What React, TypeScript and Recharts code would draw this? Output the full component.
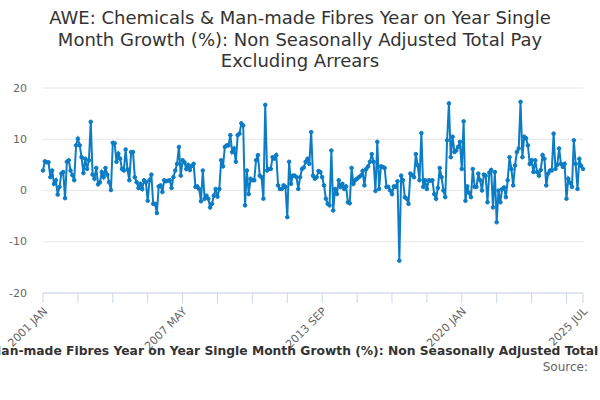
import React from 'react';
import { LineChart, Line, XAxis, YAxis, CartesianGrid } from 'recharts';

const monthNames = ['JAN', 'FEB', 'MAR', 'APR', 'MAY', 'JUN', 'JUL', 'AUG', 'SEP', 'OCT', 'NOV', 'DEC'];
const startYear = 2001;

// monthly YoY growth (%), Jan 2001 .. Jul 2025
const growth2001to2005 = [
  3.9, 5.7, 5.5, 5.5, 2.6, 3.9, 1.3, 2.0, -0.8, 0.7, 3.3, 3.6,
  -1.5, 5.6, 5.9, 3.9, 3.0, 2.0, 8.8, 10.1, 8.8, 6.5, 3.4, 6.2,
  4.2, 5.9, 13.4, 3.1, 2.3, 4.4, 1.2, 1.6, 3.6, 2.6, 4.4, 3.1,
  1.6, 0.1, 9.3, 9.2, 5.6, 7.2, 6.2, 4.2, 3.9, 8.0, 4.1, 2.0,
  7.5, 7.5, 2.6, 1.6, 0.5, 1.3, 0.3, 2.0, 1.6, -2.0, 2.0, 3.1,
];
const growth2006to2010 = [
  -2.6, -2.6, -4.4, 0.8, 1.0, -0.3, 2.0, 1.8, 1.9, 2.0, 0.5, 2.6,
  3.9, 5.2, 8.5, 2.9, 5.9, 5.5, 4.2, 5.0, 4.0, 4.8, 5.2, 0.7,
  0.8, 0.3, -2.1, 3.9, -1.6, -1.0, -1.6, -3.3, -2.6, -1.0, 0.3, -1.2,
  0.3, 5.9, 4.7, 8.5, 8.8, 8.8, 10.8, 7.5, 8.2, 5.6, 10.8, 11.1,
  13.1, 12.7, -2.9, 3.9, -0.7, 2.3, 2.0, 2.0, 5.9, 6.9, 2.9, 2.6,
];
const growth2011to2015 = [
  -1.6, 16.7, 3.9, 4.2, 4.2, 6.5, 6.2, 6.9, 1.0, 0.3, 0.3, 1.0,
  0.7, -5.2, 5.6, 1.3, 2.9, 2.9, 2.6, 0.3, 2.6, 4.2, 4.5, 5.6,
  6.2, 5.2, 11.4, 2.9, 2.3, 2.6, 3.8, 3.6, 2.6, 1.0, -1.6, -2.6,
  -2.9, 7.8, -3.9, 0.3, -0.7, 2.0, 0.7, 1.3, 0.3, 0.8, -2.3, -2.5,
  4.4, 1.3, 2.0, 2.3, 2.6, 2.9, 3.8, 1.0, 4.2, 4.7, 5.6, 7.1,
];
const growth2016to2020 = [
  5.6, -0.1, 9.5, 0.3, 4.7, 4.6, 4.4, 0.7, 0.7, 0.0, -0.7, 0.8,
  0.7, 1.8, -13.7, 2.9, 2.0, -1.3, -1.6, -2.6, 3.3, 3.0, 2.6, 7.1,
  4.9, 2.0, 11.2, 0.7, 2.0, 0.3, 2.0, 1.9, 2.0, -0.7, -1.6, 0.5,
  4.4, 2.6, 0.0, -1.3, 9.8, 17.0, 6.5, 10.5, 7.5, 7.8, 8.5, 9.5,
  4.2, 13.5, -2.0, 0.8, -0.5, -1.3, 4.2, 0.7, 0.7, 3.3, 2.0, 0.0,
];
const growth2021to2025 = [
  3.1, 2.9, -2.3, 3.5, 4.0, -3.3, 3.6, -6.2, 0.0, -2.3, 0.3, 0.6,
  -1.3, 2.0, 6.5, 4.2, 1.0, 4.9, 7.5, 8.2, 17.3, 6.5, 10.5, 10.2,
  8.8, 5.2, 5.9, 3.6, 5.9, 3.6, 2.9, 4.0, 6.9, 6.2, 1.0, 3.3,
  3.9, 3.9, 11.1, 4.2, 5.0, 8.2, 5.2, 4.6, 5.2, -1.6, 2.3, 1.5,
  0.7, 9.8, 5.2, 0.3, 6.2, 4.8, 4.2,
];

const xTicks = [0, 19, 38, 57, 76, 95, 114, 133, 152, 171, 190, 209, 228, 247, 266, 285, 294];
const labeledTicks = [0, 76, 152, 228, 294];
const yTicks = [-20, -10, 0, 10, 20];

const titleText =
  'AWE: Chemicals & Man-made Fibres Year on Year Single Month Growth (%): Non Seasonally Adjusted Total Pay Excluding Arrears';

const growth = [
  ...growth2001to2005,
  ...growth2006to2010,
  ...growth2011to2015,
  ...growth2016to2020,
  ...growth2021to2025,
];

const monthLabel = (i: number) => `${startYear + Math.floor(i / 12)} ${monthNames[i % 12]}`;

const data = growth.map((value, i) => ({ i, label: monthLabel(i), value }));

const COLOR = '#0c7cc4';
const FONT = '"DejaVu Sans", sans-serif';

// axis line sits at y=293; labels hang below it, rotated
const XTick = (props: any) => {
  const { x, payload } = props;
  if (!labeledTicks.includes(payload.value)) return null;
  const tx = x + 5;
  const ty = 312;
  return (
    <text
      x={tx}
      y={ty}
      transform={`rotate(-45 ${tx} ${ty})`}
      textAnchor="end"
      fontSize={11}
      fill="#666"
      fontFamily={FONT}
    >
      {monthLabel(payload.value)}
    </text>
  );
};

const YTick = (props: any) => {
  const { y, payload } = props;
  return (
    <text x={27} y={y} textAnchor="end" dominantBaseline="central" fontSize={11} fill="#666" fontFamily={FONT}>
      {payload.value}
    </text>
  );
};

export default function App() {
  return (
    <div style={{ position: 'absolute', left: 0, top: 0, width: 600, height: 400, background: '#fff', overflow: 'hidden', fontFamily: FONT }}>
      <div
        style={{
          position: 'absolute',
          top: 7,
          left: 30,
          width: 540,
          textAlign: 'center',
          fontSize: 18,
          lineHeight: '21.5px',
          color: '#333',
        }}
      >
        {titleText}
      </div>
      <LineChart width={600} height={400} data={data} margin={{ top: 88, right: 17, bottom: 47, left: 8 }}>
        <CartesianGrid vertical={false} stroke="#e6e6e6" />
        <XAxis
          dataKey="i"
          type="number"
          domain={[0, 294]}
          ticks={xTicks}
          interval={0}
          height={60}
          tickSize={10}
          axisLine={{ stroke: '#ccd6eb' }}
          tickLine={{ stroke: '#ccd6eb' }}
          tick={<XTick />}
        />
        <YAxis
          type="number"
          domain={[-20, 20]}
          ticks={yTicks}
          width={35}
          axisLine={false}
          tickLine={false}
          tick={<YTick />}
        />
        <Line
          type="linear"
          dataKey="value"
          stroke={COLOR}
          strokeWidth={2}
          dot={{ r: 1.8, fill: COLOR, stroke: COLOR, strokeWidth: 1 }}
          isAnimationActive={false}
        />
      </LineChart>
      <div
        style={{
          position: 'absolute',
          top: 344,
          left: -293,
          width: 1200,
          textAlign: 'center',
          whiteSpace: 'nowrap',
          fontSize: 12.3,
          fontWeight: 'bold',
          color: '#333',
        }}
      >
        {titleText}
      </div>
      <div style={{ position: 'absolute', top: 360, right: 12, fontSize: 12, color: '#666' }}>Source:</div>
    </div>
  );
}
